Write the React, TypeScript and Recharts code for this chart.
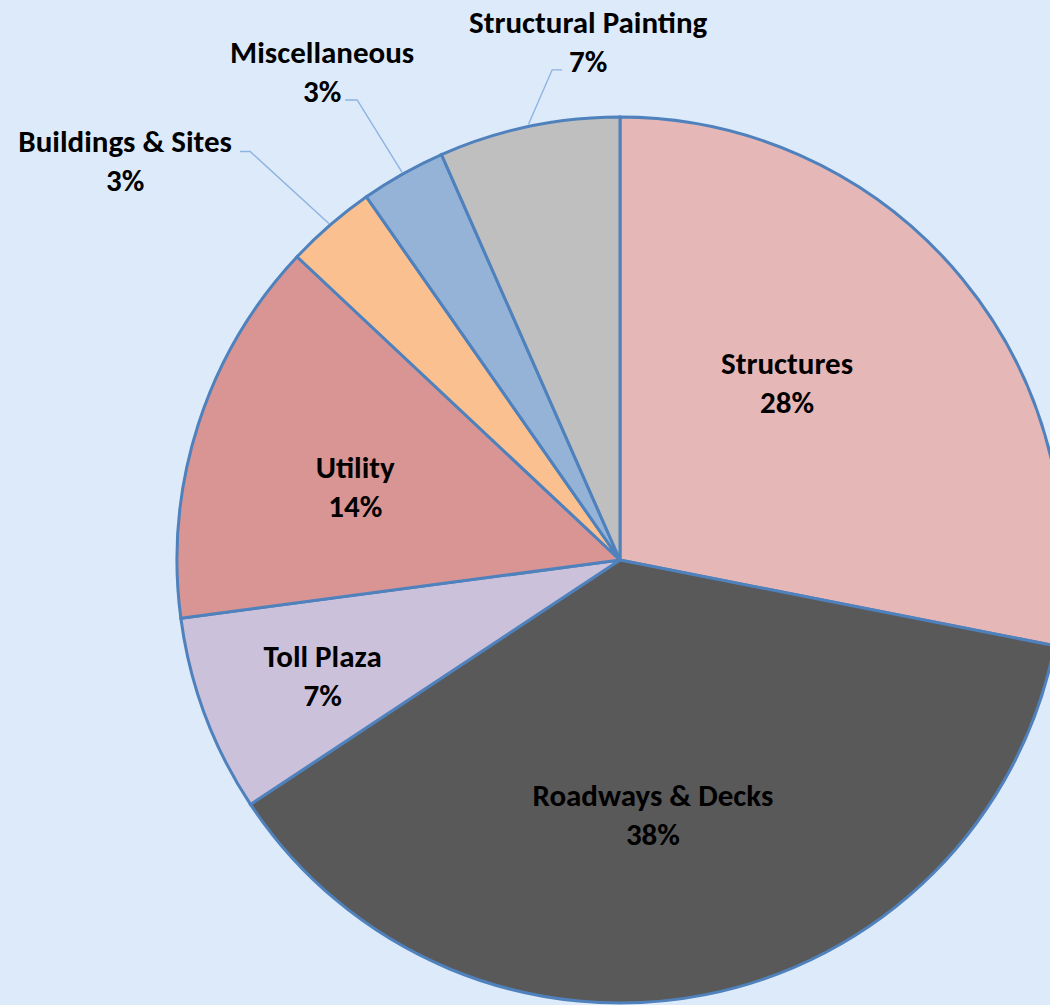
import { PieChart, Pie, Cell } from 'recharts';

const CATEGORIES = [
  'Structures',
  'Roadways & Decks',
  'Toll Plaza',
  'Utility',
  'Buildings & Sites',
  'Miscellaneous',
  'Structural Painting',
];
const SHARES = [28.1, 37.6, 7.2, 14.1, 3.3, 3.1, 6.6];
const COLORS = ['#E6B7B7', '#595959', '#CCC1DA', '#D99594', '#FAC090', '#95B3D7', '#BFBFBF'];

const data = CATEGORIES.map((name, i) => ({ name, value: SHARES[i] }));

const RAD = Math.PI / 180;
const FONT = 'Carlito, Calibri, Lato, sans-serif';
const LINE_GAP = 39;

// inside labels: fraction of radius + angle nudge (Excel "best fit" placement)
const INSIDE: Record<string, { r: number; da: number }> = {
  Structures: { r: 0.55, da: 7.3 },
  'Roadways & Decks': { r: 0.58, da: -3.8 },
  'Toll Plaza': { r: 0.72, da: 0.7 },
  Utility: { r: 0.62, da: 2.4 },
};

// outside labels: leader elbow (radius fraction, angle nudge), tail length, text offset from elbow
const OUTSIDE: Record<string, { r: number; da: number; tail: number; tx: number; ty: number }> = {
  'Buildings & Sites': { r: 1.244, da: 1.3, tail: -10, tx: -125, ty: -10 },
  Miscellaneous: { r: 1.196, da: 0.4, tail: -12, tx: -35, ty: -48 },
  'Structural Painting': { r: 1.117, da: -4.0, tail: 10, tx: 36, ty: -48 },
};

function polar(cx: number, cy: number, r: number, deg: number) {
  return { x: cx + r * Math.cos(deg * RAD), y: cy - r * Math.sin(deg * RAD) };
}

function SliceLabel(props: any) {
  const { cx, cy, midAngle, outerRadius, percent, name } = props;
  const pct = `${Math.round(percent * 100)}%`;
  const textStyle = { fontFamily: FONT, fontWeight: 700, fontSize: 31, fill: '#000' };

  const inside = INSIDE[name];
  if (inside) {
    const p = polar(cx, cy, outerRadius * inside.r, midAngle + inside.da);
    return (
      <g>
        <text x={p.x} y={p.y - LINE_GAP / 2} textAnchor="middle" dominantBaseline="central" style={textStyle}>
          {name}
        </text>
        <text x={p.x} y={p.y + LINE_GAP / 2} textAnchor="middle" dominantBaseline="central" style={textStyle}>
          {pct}
        </text>
      </g>
    );
  }

  const out = OUTSIDE[name];
  if (!out) return null;
  const start = polar(cx, cy, outerRadius + 2, midAngle);
  const elbow = polar(cx, cy, outerRadius * out.r, midAngle + out.da);
  const tx = elbow.x + out.tx;
  const ty = elbow.y + out.ty;
  return (
    <g>
      <polyline
        points={`${start.x},${start.y} ${elbow.x},${elbow.y} ${elbow.x + out.tail},${elbow.y}`}
        fill="none"
        stroke="#8DB3E2"
        strokeWidth={1.4}
      />
      <text x={tx} y={ty} textAnchor="middle" dominantBaseline="central" style={textStyle}>
        {name}
      </text>
      <text x={tx} y={ty + LINE_GAP} textAnchor="middle" dominantBaseline="central" style={textStyle}>
        {pct}
      </text>
    </g>
  );
}

export default function App() {
  return (
    <div
      style={{
        position: 'fixed',
        left: 0,
        top: 0,
        width: 1050,
        height: 1005,
        overflow: 'hidden',
        background: '#DDEAF9',
      }}
    >
      <PieChart width={1100} height={1005} margin={{ top: 0, right: 0, bottom: 0, left: 0 }}>
        <Pie
          data={data}
          dataKey="value"
          nameKey="name"
          cx={620}
          cy={560}
          outerRadius={443}
          startAngle={90}
          endAngle={-270}
          stroke="#4F81BD"
          strokeWidth={3}
          label={SliceLabel}
          labelLine={false}
          isAnimationActive={false}
        >
          {data.map((d, i) => (
            <Cell key={d.name} fill={COLORS[i]} />
          ))}
        </Pie>
      </PieChart>
    </div>
  );
}
